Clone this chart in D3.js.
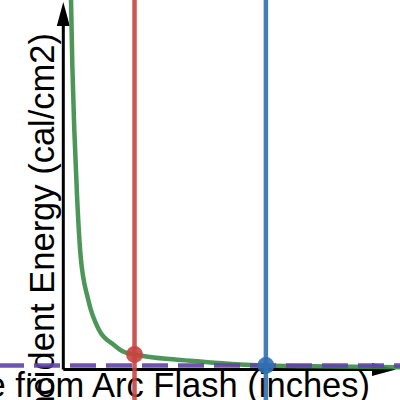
<!DOCTYPE html>
<html>
<head>
<meta charset="utf-8">
<script src="https://cdn.jsdelivr.net/npm/d3@7"></script>
<style>
  body { margin: 0; background: #fff; }
  svg { display: block; }
  .label { font-family: "Liberation Sans", Arial, sans-serif; font-size: 34.5px; fill: #000; }
</style>
</head>
<body>
<script>
// distance (inches) and incident energy (cal/cm2)
var curveDist   = [1.95, 2.28, 2.78, 3.46, 4.35, 6.3, 9.0, 12.8, 15.1, 18, 33.8, 44.7, 51.2, 67.4, 85.1];
var curveEnergy = [110.9, 91.4, 71.9, 52.4, 34.4, 20.9, 11.9, 7.35, 5.4, 4.5, 2.5, 1.5, 1.2, 0.9, 0.7];

var workingDist = 18;      // red line
var boundaryDist = 51.2;   // blue line
var thresholdEnergy = 1.2; // purple dashed line
var workingEnergy = 4.5;   // red point

var xTitle = "Distance from Arc Flash (inches)";
var yTitle = "Incident Energy (cal/cm2)";

var w = 400, h = 400;

var x = d3.scaleLinear().domain([-16.0, 85.1]).range([0, w]);
var y = d3.scaleLinear().domain([-9.15, 110.85]).range([h, 0]);

var svg = d3.select("body").append("svg")
  .attr("width", w)
  .attr("height", h);

svg.append("defs").append("clipPath").attr("id", "plot")
  .append("rect").attr("x", 0).attr("y", 0).attr("width", w).attr("height", h);

// axis titles (drawn under the graph)
svg.append("text")
  .attr("class", "label")
  .attr("text-anchor", "end")
  .attr("x", 370)
  .attr("y", 397)
  .text(xTitle);

svg.append("text")
  .attr("class", "label")
  .attr("text-anchor", "end")
  .attr("transform", "translate(54,33) rotate(-90)")
  .text(yTitle);

// axes with arrows
var x0 = x(0), y0 = y(0);
svg.append("line")
  .attr("x1", x0).attr("y1", y0)
  .attr("x2", x0).attr("y2", 20)
  .attr("stroke", "#000").attr("stroke-width", 3);
svg.append("path")
  .attr("d", "M" + x0 + ",2 L" + (x0 - 6.5) + ",26 L" + (x0 + 6.5) + ",26 Z")
  .attr("fill", "#000");

svg.append("line")
  .attr("x1", x0).attr("y1", y0)
  .attr("x2", 378).attr("y2", y0)
  .attr("stroke", "#000").attr("stroke-width", 3);
svg.append("path")
  .attr("d", "M396," + y0 + " L372," + (y0 - 6.5) + " L372," + (y0 + 6.5) + " Z")
  .attr("fill", "#000");

var g = svg.append("g").attr("clip-path", "url(#plot)");

// energy curve
var pts = d3.zip(curveDist, curveEnergy);
var line = d3.line()
  .x(function(d){ return x(d[0]); })
  .y(function(d){ return y(d[1]); })
  .curve(d3.curveMonotoneX);

g.append("path")
  .datum(pts)
  .attr("d", line)
  .attr("fill", "none")
  .attr("stroke", "#388c46")
  .attr("stroke-width", 4.5)
  .attr("stroke-opacity", 0.9)
  .attr("stroke-linecap", "round");

// vertical lines
g.append("line")
  .attr("x1", x(workingDist)).attr("x2", x(workingDist))
  .attr("y1", 0).attr("y2", h)
  .attr("stroke", "#c74440").attr("stroke-opacity", 0.9)
  .attr("stroke-width", 4.5);

g.append("line")
  .attr("x1", x(boundaryDist)).attr("x2", x(boundaryDist))
  .attr("y1", 0).attr("y2", h)
  .attr("stroke", "#2d70b3").attr("stroke-opacity", 0.9)
  .attr("stroke-width", 4.5);

// threshold dashed line
g.append("line")
  .attr("x1", 0).attr("x2", w)
  .attr("y1", y(thresholdEnergy)).attr("y2", y(thresholdEnergy))
  .attr("stroke", "#6042a6").attr("stroke-opacity", 0.9)
  .attr("stroke-width", 4.5)
  .attr("stroke-dasharray", "26,10")
  .attr("stroke-dashoffset", 2);

// points
g.append("circle")
  .attr("cx", x(workingDist)).attr("cy", y(workingEnergy))
  .attr("r", 8.5)
  .attr("fill", "#c74440").attr("fill-opacity", 0.9);

g.append("circle")
  .attr("cx", x(boundaryDist)).attr("cy", y(thresholdEnergy))
  .attr("r", 8.5)
  .attr("fill", "#2d70b3").attr("fill-opacity", 0.9);
</script>
</body>
</html>
